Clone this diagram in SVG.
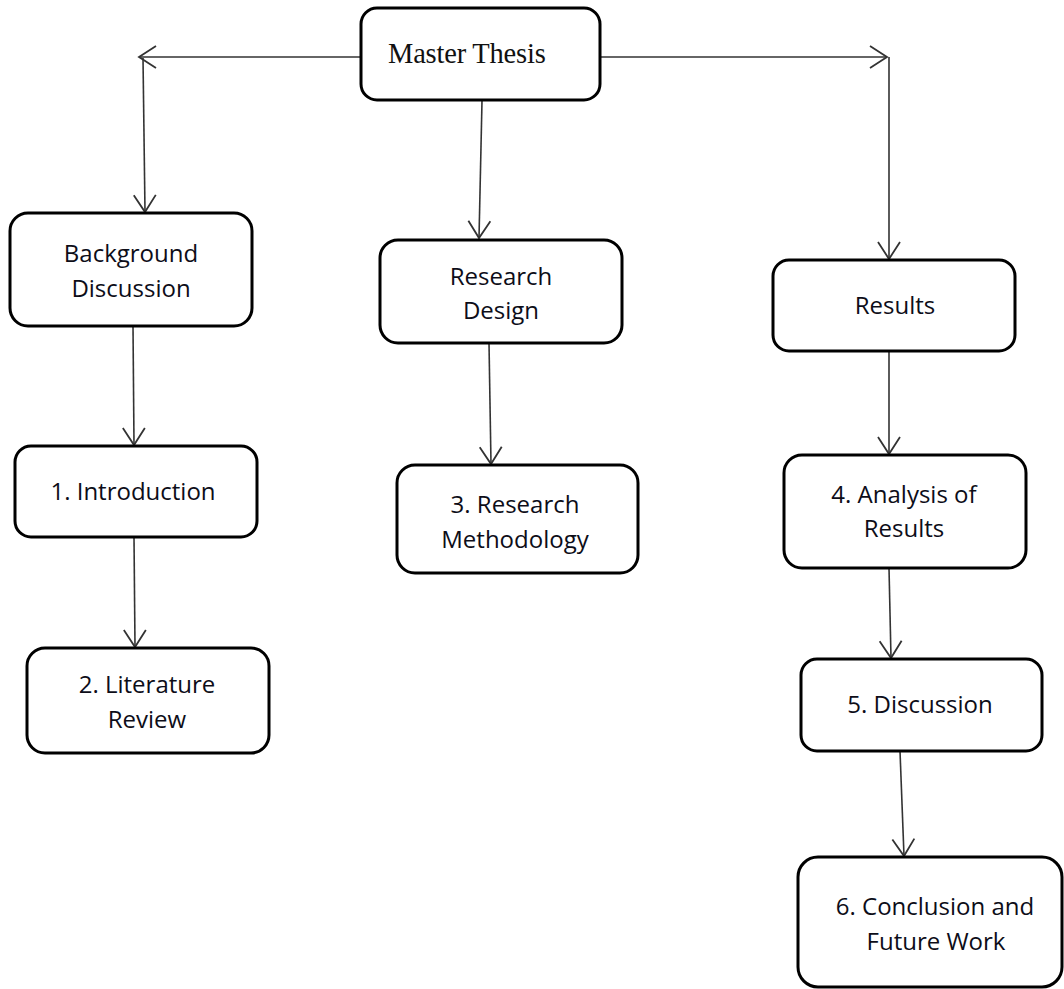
<svg xmlns="http://www.w3.org/2000/svg" width="1064" height="989" viewBox="0 0 1064 989">
<style>
.box{fill:#fff;stroke:#000;stroke-width:3}
.lbl{font-family:"Open Sans","Liberation Sans",sans-serif;font-size:24px;fill:#0d0d18;text-anchor:middle}
.title{font-family:"Liberation Serif","Times New Roman",serif;font-size:28.5px;fill:#111;letter-spacing:-0.2px}
.edge{fill:none;stroke:#333;stroke-width:1.6;marker-end:url(#arr)}
</style>
<defs>
<marker id="arr" markerUnits="userSpaceOnUse" markerWidth="22" markerHeight="26" refX="18" refY="12" orient="auto" overflow="visible">
<path d="M1,1 L18,12 L1,23" fill="none" stroke="#333" stroke-width="1.8"/>
</marker>
</defs>
<rect width="1064" height="989" fill="#fff"/>
<g id="connectors">
<path class="edge" d="M361,57 L139,57"/>
<path class="edge" d="M600,57 L887,57"/>
<path class="edge" d="M143,58 L145,212"/>
<path class="edge" d="M482,101 L479,238"/>
<path class="edge" d="M889,57 L889,259"/>
<path class="edge" d="M133,326 L134,445"/>
<path class="edge" d="M134,537 L135,647"/>
<path class="edge" d="M489,343 L491,464"/>
<path class="edge" d="M889,351 L889,454"/>
<path class="edge" d="M889,568 L891,658"/>
<path class="edge" d="M900,751 L904,856"/>
</g>
<g id="master">
<rect class="box" x="361" y="8" width="239" height="92" rx="16"/>
<text class="title" x="388" y="63">Master Thesis</text>
</g>
<g id="background">
<rect class="box" x="10" y="213" width="242" height="113" rx="18"/>
<text class="lbl" x="131" y="262">Background</text>
<text class="lbl" x="131" y="297">Discussion</text>
</g>
<g id="research-design">
<rect class="box" x="380" y="240" width="242" height="103" rx="18"/>
<text class="lbl" x="501" y="285">Research</text>
<text class="lbl" x="501" y="319">Design</text>
</g>
<g id="results">
<rect class="box" x="773" y="260" width="242" height="91" rx="16"/>
<text class="lbl" x="895" y="314">Results</text>
</g>
<g id="introduction">
<rect class="box" x="15" y="446" width="242" height="91" rx="16"/>
<text class="lbl" x="133" y="500">1. Introduction</text>
</g>
<g id="literature">
<rect class="box" x="27" y="648" width="242" height="105" rx="18"/>
<text class="lbl" x="147" y="693">2. Literature</text>
<text class="lbl" x="147" y="728">Review</text>
</g>
<g id="methodology">
<rect class="box" x="397" y="465" width="241" height="108" rx="18"/>
<text class="lbl" x="515" y="513">3. Research</text>
<text class="lbl" x="515" y="548">Methodology</text>
</g>
<g id="analysis">
<rect class="box" x="784" y="455" width="242" height="113" rx="18"/>
<text class="lbl" x="904" y="503">4. Analysis of</text>
<text class="lbl" x="904" y="537">Results</text>
</g>
<g id="discussion">
<rect class="box" x="801" y="659" width="241" height="92" rx="16"/>
<text class="lbl" x="920" y="713">5. Discussion</text>
</g>
<g id="conclusion">
<rect class="box" x="798" y="857" width="264" height="130" rx="20"/>
<text class="lbl" x="935" y="915">6. Conclusion and</text>
<text class="lbl" x="936" y="950">Future Work</text>
</g>
</svg>
